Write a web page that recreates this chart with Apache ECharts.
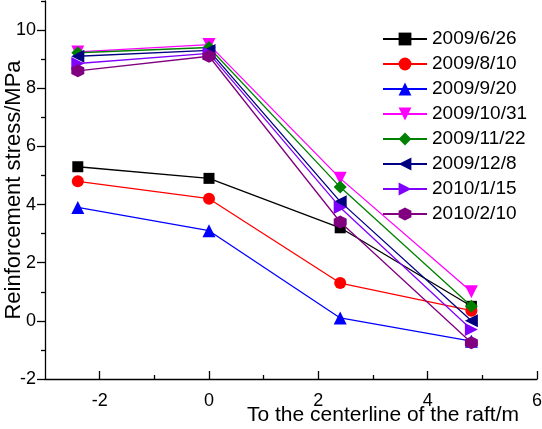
<!DOCTYPE html>
<html>
<head>
<meta charset="utf-8">
<style>
  html, body { margin: 0; padding: 0; background: #ffffff; }
  #chart { width: 542px; height: 429px; }
</style>
<script src="https://cdn.jsdelivr.net/npm/echarts@6/dist/echarts.min.js"></script>
</head>
<body>
<div id="chart"></div>
<script>
// Distance from the raft centerline (m) for each gauge
const distances = [-2.4, 0, 2.4, 4.8];

// Survey dates shown in the legend
const dates = ['2009/6/26', '2009/8/10', '2009/9/20', '2009/10/31',
               '2009/11/22', '2009/12/8', '2010/1/15', '2010/2/10'];

// Reinforcement stress (MPa) at each distance, one list per survey date
const stress_20090626 = [5.3, 4.9, 3.2, 0.5];
const stress_20090810 = [4.8, 4.2, 1.3, 0.35];
const stress_20090920 = [3.9, 3.1, 0.1, -0.7];
const stress_20091031 = [9.25, 9.5, 4.9, 1.0];
const stress_20091122 = [9.22, 9.4, 4.6, 0.5];
const stress_20091208 = [9.1, 9.3, 4.1, 0.0];
const stress_20100115 = [8.85, 9.2, 3.9, -0.3];
const stress_20100210 = [8.6, 9.1, 3.4, -0.75];

// Axis tick positions
const xMajorTicks = [-2, 0, 2, 4, 6];
const xMinorTicks = [-1, 1, 3, 5];
const yMajorTicks = [-2, 0, 2, 4, 6, 8, 10];
const yMinorTicks = [-1, 1, 3, 5, 7, 9, 11];

const stressSeries = [stress_20090626, stress_20090810, stress_20090920, stress_20091031,
                      stress_20091122, stress_20091208, stress_20100115, stress_20100210];

const colors = ['#000000', '#ff0000', '#0000ff', '#ff00ff', '#008000', '#000080', '#8000ff', '#800080'];
const hexagon = 'path://M0,-1L0.866,-0.5L0.866,0.5L0,1L-0.866,0.5L-0.866,-0.5Z';
const markers = [
  { symbol: 'rect', size: 11, rotate: 0 },
  { symbol: 'circle', size: 12, rotate: 0 },
  { symbol: 'triangle', size: 13, rotate: 0 },
  { symbol: 'triangle', size: 13, rotate: 180 },
  { symbol: 'diamond', size: 13, rotate: 0 },
  { symbol: 'triangle', size: 13, rotate: 90 },
  { symbol: 'triangle', size: 13, rotate: -90 },
  { symbol: hexagon, size: 13, rotate: 0 }
];

const FONT = "'Liberation Sans', Arial, sans-serif";

const chart = echarts.init(document.getElementById('chart'), null, { renderer: 'canvas' });

const series = stressSeries.map((vals, i) => ({
  name: dates[i],
  type: 'line',
  xAxisIndex: 0,
  yAxisIndex: 0,
  data: distances.map((d, j) => [d, vals[j]]),
  symbol: markers[i].symbol,
  symbolSize: markers[i].size,
  symbolRotate: markers[i].rotate,
  showAllSymbol: true,
  lineStyle: { color: colors[i], width: 1.3 },
  itemStyle: { color: colors[i], borderWidth: 0 },
  emphasis: { disabled: true },
  animation: false,
  z: 2 + i
}));

chart.setOption({
  backgroundColor: '#ffffff',
  animation: false,
  grid: { left: 45, right: 5, top: 1, bottom: 50, containLabel: false, outerBoundsMode: 'none' },
  legend: {
    data: dates,
    orient: 'vertical',
    left: 377,
    top: 24,
    itemWidth: 44,
    itemHeight: 16,
    itemGap: 5,
    textStyle: { fontFamily: FONT, fontSize: 19, color: '#000', lineHeight: 20 },
    selectedMode: false
  },
  xAxis: [
    {
      type: 'value',
      min: -3, max: 6,
      position: 'bottom',
      name: 'To the centerline of the raft/m',
      nameLocation: 'middle',
      nameGap: 26,
      nameMoveOverlap: false,
      nameTextStyle: { fontFamily: FONT, fontSize: 21, color: '#000', padding: [0, 0, 0, 184] },
      axisLine: { show: true, onZero: false, lineStyle: { color: '#000', width: 1.3 } },
      axisTick: { show: true, inside: true, length: 8, customValues: xMajorTicks, lineStyle: { color: '#000', width: 1.3 } },
      axisLabel: { show: true, margin: 13, customValues: xMajorTicks, fontFamily: FONT, fontSize: 18, color: '#000' },
      splitLine: { show: false }
    },
    {
      type: 'value',
      min: -3, max: 6,
      position: 'bottom',
      axisLine: { show: false, onZero: false },
      axisTick: { show: true, inside: true, length: 4, customValues: xMinorTicks, lineStyle: { color: '#000', width: 1.3 } },
      axisLabel: { show: false },
      splitLine: { show: false }
    }
  ],
  yAxis: [
    {
      type: 'value',
      min: -2, max: 11,
      position: 'left',
      name: 'Reinforcement stress/MPa',
      nameLocation: 'middle',
      nameGap: 20,
      nameMoveOverlap: false,
      nameTextStyle: { fontFamily: FONT, fontSize: 22, color: '#000' },
      axisLine: { show: true, onZero: false, lineStyle: { color: '#000', width: 1.3 } },
      axisTick: { show: true, inside: false, length: 8, customValues: yMajorTicks, lineStyle: { color: '#000', width: 1.3 } },
      axisLabel: { show: true, margin: 9, customValues: yMajorTicks, fontFamily: FONT, fontSize: 18, color: '#000' },
      splitLine: { show: false }
    },
    {
      type: 'value',
      min: -2, max: 11,
      position: 'left',
      axisLine: { show: false, onZero: false },
      axisTick: { show: true, inside: false, length: 4, customValues: yMinorTicks, lineStyle: { color: '#000', width: 1.3 } },
      axisLabel: { show: false },
      splitLine: { show: false }
    }
  ],
  series: series
});
</script>
</body>
</html>
